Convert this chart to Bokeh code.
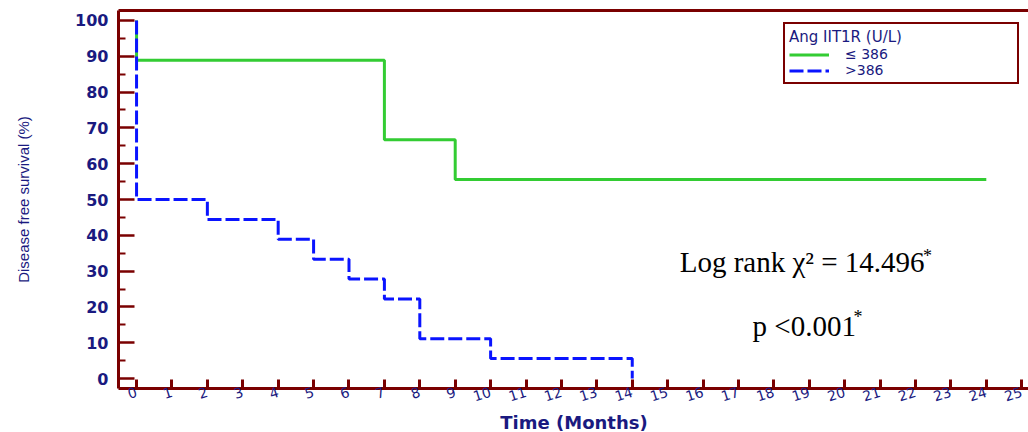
from bokeh.plotting import figure
from bokeh.models import (Range1d, FixedTicker, LinearAxis, Legend, LegendItem, Label)
from bokeh.embed import file_html
from bokeh.resources import INLINE

# ---- data ----
low_times = [0, 7, 9]
low_surv = [88.9, 66.7, 55.6]
low_end = 24
high_times = [0, 2, 4, 5, 6, 7, 8, 10, 14]
high_surv = [50.0, 44.4, 38.9, 33.3, 27.8, 22.2, 11.1, 5.6, 0.0]
high_end = 14
x_ticks = list(range(0, 26))
y_ticks = list(range(0, 101, 10))
y_minor = list(range(5, 100, 10))
legend_title = "Ang IIT1R (U/L)"
series_names = ["\u2264 386", ">386"]
stat_text = "Log rank \u03c7\u00b2 = 14.496"
p_text = "p <0.001"


def km_steps(times, surv, end):
    xs, ys = [0], [100.0]
    prev = 100.0
    for t, s in zip(times, surv):
        xs += [t, t]
        ys += [prev, s]
        prev = s
    xs.append(end)
    ys.append(prev)
    return xs, ys


AXC = "#7a0000"
TXT = "#1a1a80"

p = figure(frame_width=911, frame_height=378, output_backend="svg",
           toolbar_location=None, x_range=Range1d(-0.51, 25.22),
           y_range=Range1d(-2.79, 102.79), min_border_left=118,
           min_border_top=10, min_border_right=0, min_border_bottom=0)
p.outline_line_color = None
p.grid.visible = False
p.background_fill_color = "white"

# axes
xa = p.xaxis[0]
xa.ticker = FixedTicker(ticks=x_ticks)
xa.axis_line_color = AXC
xa.axis_line_width = 3
xa.major_tick_line_color = AXC
xa.major_tick_line_width = 3
xa.major_tick_in = 9
xa.major_tick_out = 0
xa.minor_tick_line_color = None
xa.major_label_text_color = TXT
xa.major_label_text_font = "DejaVu Sans"
xa.major_label_text_font_size = "14px"
xa.major_label_orientation = 0.3
xa.major_label_standoff = 3
xa.axis_label = "Time (Months)"
xa.axis_label_text_color = TXT
xa.axis_label_text_font = "DejaVu Sans"
xa.axis_label_text_font_style = "bold"
xa.axis_label_text_font_size = "18px"
xa.axis_label_standoff = 3

ya = p.yaxis[0]
ya.ticker = FixedTicker(ticks=y_ticks, minor_ticks=y_minor)
ya.axis_line_color = AXC
ya.axis_line_width = 3
ya.major_tick_line_color = AXC
ya.major_tick_line_width = 2.5
ya.major_tick_in = 16
ya.major_tick_out = 0
ya.minor_tick_line_color = AXC
ya.minor_tick_line_width = 2
ya.minor_tick_in = 7
ya.minor_tick_out = 0
ya.major_label_text_color = TXT
ya.major_label_text_font = "DejaVu Sans"
ya.major_label_text_font_style = "bold"
ya.major_label_text_font_size = "16px"
ya.major_label_standoff = 10
ya.axis_label = "Disease free survival (%)"
ya.axis_label_text_color = TXT
ya.axis_label_text_font = "Liberation Sans"
ya.axis_label_text_font_style = "normal"
ya.axis_label_text_font_size = "15px"
ya.axis_label_standoff = 40

top = LinearAxis(ticker=FixedTicker(ticks=[]), axis_line_color=AXC,
                 axis_line_width=3, major_tick_in=0, major_tick_out=0,
                 minor_tick_in=0, minor_tick_out=0, major_label_standoff=0)
p.add_layout(top, "above")

lx, ly = km_steps(low_times, low_surv, low_end)
hx, hy = km_steps(high_times, high_surv, high_end)
r_low = p.line(lx, ly, line_color="#33cc33", line_width=3)
r_high = p.line(hx, hy, line_color="#0a14ff", line_width=3, line_dash="14 4")

legend = Legend(items=[LegendItem(label=series_names[0], renderers=[r_low]),
                       LegendItem(label=series_names[1], renderers=[r_high])],
                location=(665, 304), title=legend_title,
                title_text_color=TXT, title_text_font="DejaVu Sans",
                title_text_font_size="15px", title_text_font_style="normal",
                title_standoff=0,
                label_text_color=TXT, label_text_font="DejaVu Sans",
                label_text_font_size="14px", label_standoff=16,
                label_width=168, label_height=13,
                glyph_width=40, glyph_height=13, spacing=0,
                padding=4, margin=0,
                border_line_color=AXC, border_line_width=2, border_line_alpha=1,
                background_fill_color="white", background_fill_alpha=1)
p.add_layout(legend)

p.add_layout(Label(x=15.34, y=32.65, text=stat_text, text_font="Liberation Serif",
                   text_font_size="29px", text_color="black",
                   text_baseline="alphabetic"))
p.add_layout(Label(x=22.21, y=34.35, text="*", text_font="Liberation Serif",
                   text_font_size="18px", text_color="black",
                   text_baseline="alphabetic"))
p.add_layout(Label(x=17.4, y=14.8, text=p_text, text_font="Liberation Serif",
                   text_font_size="29px", text_color="black",
                   text_baseline="alphabetic"))
p.add_layout(Label(x=20.25, y=17.2, text="*", text_font="Liberation Serif",
                   text_font_size="18px", text_color="black",
                   text_baseline="alphabetic"))

open("out.html", "w").write(file_html(p, INLINE))
